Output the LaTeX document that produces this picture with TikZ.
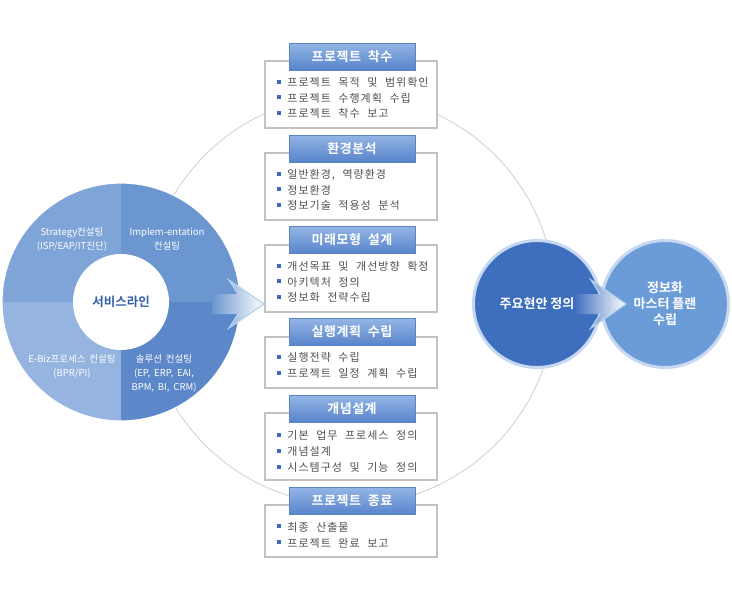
\documentclass[tikz,border=0pt]{standalone}
\usepackage{fontspec}
\setmainfont{Noto Sans CJK KR}[BoldFont={Noto Sans CJK KR Bold}]
\newfontfamily\itemfont{Noto Sans CJK KR}[LetterSpace=9,WordSpace=2.2]
\newfontfamily\headfont{Noto Sans CJK KR Bold}[LetterSpace=4,WordSpace=2]
\newfontfamily\quadfont{Noto Sans CJK KR}[WordSpace=1.8]
\usepackage{tikz}

\definecolor{ringgray}{HTML}{D6D6D6}
\definecolor{cardgray}{HTML}{C2C2C2}
\definecolor{headtop}{HTML}{93B5E5}
\definecolor{headbot}{HTML}{5884CB}
\definecolor{headline}{HTML}{5A82C4}
\definecolor{bullet}{HTML}{3A6BC0}
\definecolor{itemgray}{HTML}{505050}
\definecolor{qtl}{HTML}{7EA4D8}
\definecolor{qtr}{HTML}{6B96D0}
\definecolor{qbl}{HTML}{95B4DF}
\definecolor{qbr}{HTML}{5C87C8}
\definecolor{svcblue}{HTML}{3560AE}
\definecolor{issueblue}{HTML}{3E6FBF}
\definecolor{planblue}{HTML}{6C9CD8}
\definecolor{discrim}{HTML}{C7D9F0}
\definecolor{chevline}{HTML}{B5D1EF}

\newcommand{\itm}{\textcolor{bullet}{\rule[2.8pt]{4pt}{4pt}}\hspace{6pt}}

\begin{document}
\begin{tikzpicture}[x=1pt,y=-1pt,
  ring/.style={draw=ringgray,line width=1pt},
  card/.style={draw=cardgray,line width=1.5pt,fill=white,minimum width=172pt,inner sep=0pt},
  head/.style={top color=headtop,bottom color=headbot,draw=headline,line width=0.6pt,
    minimum width=126pt,minimum height=27pt,inner sep=0pt,text=white,
    font=\headfont\fontsize{13}{15}\selectfont},
  items/.style={anchor=west,align=left,inner sep=0pt,text=itemgray,
    font=\itemfont\fontsize{11}{15.8}\selectfont},
  quad/.style={align=center,text=white,inner sep=0pt,font=\quadfont\fontsize{9.5}{14}\selectfont},
  disc/.style={circle,draw=discrim,line width=3pt,minimum size=127pt,inner sep=0pt,
    text=white,align=center,font=\bfseries\fontsize{13}{16}\selectfont},
  chevlines/.style={draw=chevline,line width=1.2pt,line join=miter}
]
\useasboundingbox (0,0) rectangle (732,600);

% big ring behind everything
\coordinate (rc) at (350,300);
\draw[ring] (rc) circle (205pt);

% service line donut
\coordinate (dc) at (121,302);
\fill[qtl] (dc) -- ++(90:119pt) arc[start angle=90,end angle=180,radius=119pt] -- cycle;
\fill[qtr] (dc) -- ++(0:119pt) arc[start angle=0,end angle=90,radius=119pt] -- cycle;
\fill[qbl] (dc) -- ++(180:119pt) arc[start angle=180,end angle=270,radius=119pt] -- cycle;
\fill[qbr] (dc) -- ++(270:119pt) arc[start angle=270,end angle=360,radius=119pt] -- cycle;
\draw[white,line width=1.2pt] (dc) circle (119pt);
\fill[white] (dc) circle (48pt);
\node[text=svcblue,font=\bfseries\fontsize{12.5}{15}\selectfont] (svc) at (dc) {서비스라인};

\node[quad] (strat) at (72,239.5) {Strategy컨설팅\\(ISP/EAP/IT진단)};
\node[quad] (impl) at (167,239.5) {Implem-entation\\컨설팅};
\node[quad] (ebiz) at (72,366) {E-Biz프로세스 컨설팅\\(BPR/PI)};
\node[quad] (sol) at (164,373.5) {솔루션 컨설팅\\(EP, ERP, EAI,\\BPM, BI, CRM)};

% chevron out of the donut
\shade[left color=qtr,right color=white] (212,294) -- (238,294) -- (229,280) -- (264,304)
  -- (229,328) -- (238,314) -- (212,314) -- cycle;
\draw[chevlines] (238,294) -- (229,280) -- (264,304) -- (229,328) -- (238,314);

% phase boxes
\node[card,minimum height=67pt] (c1) at (351,94.5) {};
\node[head] (h1) at (352,56.5) {프로젝트 착수};
\node[items] (l1) at ([xshift=13pt,yshift=-3.5pt]c1.west)
  {\itm 프로젝트 목적 및 범위확인\\\itm 프로젝트 수행계획 수립\\\itm 프로젝트 착수 보고};

\node[card,minimum height=67pt] (c2) at (351,186.5) {};
\node[head] (h2) at (352,148.5) {환경분석};
\node[items] (l2) at ([xshift=13pt,yshift=-3.5pt]c2.west)
  {\itm 일반환경, 역량환경\\\itm 정보환경\\\itm 정보기술 적용성 분석};

\node[card,minimum height=67pt] (c3) at (351,278.5) {};
\node[head] (h3) at (352,240) {미래모형 설계};
\node[items] (l3) at ([xshift=13pt,yshift=-3.5pt]c3.west)
  {\itm 개선목표 및 개선방향 확정\\\itm 아키텍처 정의\\\itm 정보화 전략수립};

\node[card,minimum height=51pt] (c4) at (351,362.5) {};
\node[head] (h4) at (352,332) {실행계획 수립};
\node[items] (l4) at ([xshift=13pt,yshift=-3pt]c4.west)
  {\itm 실행전략 수립\\\itm 프로젝트 일정 계획 수립};

\node[card,minimum height=67pt] (c5) at (351,446.5) {};
\node[head] (h5) at (352,409) {개념설계};
\node[items] (l5) at ([xshift=13pt,yshift=-5pt]c5.west)
  {\itm 기본 업무 프로세스 정의\\\itm 개념설계\\\itm 시스템구성 및 기능 정의};

\node[card,minimum height=52pt] (c6) at (351,531) {};
\node[head] (h6) at (352,501) {프로젝트 종료};
\node[items] (l6) at ([xshift=13pt,yshift=-4pt]c6.west)
  {\itm 최종 산출물\\\itm 프로젝트 완료 보고};

% issue and master plan discs
\node[disc,fill=issueblue] (issue) at (537,304) {주요현안 정의};
\node[disc,fill=planblue] (plan) at (665,304) {정보화\\마스터 플랜\\수립};

\shade[left color=issueblue,right color=white] (575,294) -- (600,294) -- (591,280) -- (626,304)
  -- (591,328) -- (600,314) -- (575,314) -- cycle;
\draw[chevlines] (600,294) -- (591,280) -- (626,304) -- (591,328) -- (600,314);
\end{tikzpicture}
\end{document}
